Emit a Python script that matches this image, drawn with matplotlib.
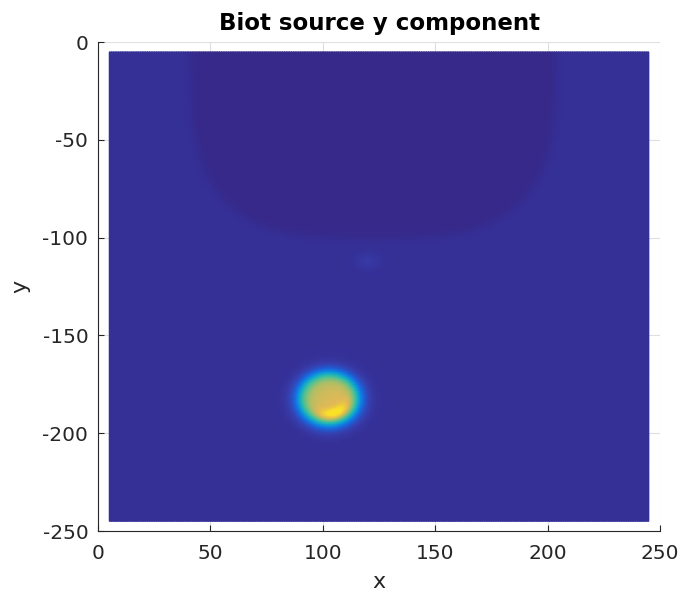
import numpy as np
import matplotlib
matplotlib.use("Agg")
import matplotlib.pyplot as plt
from matplotlib.colors import LinearSegmentedColormap

plt.rcParams["axes.unicode_minus"] = False

# grid of the source field (cell centres)
x_range = [5, 245]
y_range = [-245, -5]
n_pts = 241

# field levels
background_level = 0.05
dark_level = 0.0
# dark U region hanging from the top: centre x, top y, half width, depth, exponent
dark_region = [122.5, -5, 81, 95, 3.2]
# faint spot: x, y, rx, ry, amplitude
faint_spot = [120, -112, 6, 4.5, 0.035]
# main source blob: x, y, radius, edge width, peak level
blob = [102.5, -182, 13.0, 2.1, 0.78]
# bright crescent on the lower rim of the blob: radius, radial width, angle (deg), angular width, amplitude
crescent = [8.0, 2.6, -70, 45, 0.34]

# colour stops (level, rgb)
cmap_levels = [0.0, 0.05, 0.10, 0.25, 0.40, 0.55, 0.70, 0.80, 1.0]
cmap_colors = ["#36298a", "#353097", "#383ead", "#166ee6", "#0aaad2",
               "#4cc396", "#b4be64", "#e2b957", "#fae228"]

x = np.linspace(x_range[0], x_range[1], n_pts)
y = np.linspace(y_range[0], y_range[1], n_pts)
X, Y = np.meshgrid(x, y)

Z = np.full_like(X, background_level)

cx, top, a, b, p = dark_region
sq = np.abs((X - cx) / a) ** p + np.abs((Y - top) / b) ** p
inside = 1.0 / (1.0 + np.exp((sq - 1.0) / 0.04))
Z = Z - (background_level - dark_level) * inside

sx, sy, srx, sry, samp = faint_spot
Z = Z + samp * np.exp(-(((X - sx) / srx) ** 2 + ((Y - sy) / sry) ** 2))

bx, by, br, bw, bpeak = blob
r = np.hypot(X - bx, Y - by)
plateau = 1.0 / (1.0 + np.exp((r - br) / bw))
tilt = 0.05 * ((X - bx) - (Y - by)) / br
Z = Z + (bpeak - background_level + tilt) * plateau

kr, kw, kang, kaw, kamp = crescent
ang = np.degrees(np.arctan2(Y - by, X - bx))
dang = (ang - kang + 180) % 360 - 180
Z = Z + kamp * np.exp(-((r - kr) / kw) ** 2) * np.exp(-(dang / kaw) ** 2)
Z = np.clip(Z, 0, 1)

cmap = LinearSegmentedColormap.from_list("parula_like", list(zip(cmap_levels, cmap_colors)))

fig = plt.figure(figsize=(6.84, 5.94), dpi=100)
ax = fig.add_axes([0.1433, 0.106, 0.8217, 0.823])
ax.pcolormesh(X, Y, Z, cmap=cmap, vmin=0, vmax=1, shading="gouraud", zorder=1)

ax.set_xlim(0, 250)
ax.set_ylim(-250, 0)
ax.set_xticks([0, 50, 100, 150, 200, 250])
ax.set_yticks([-250, -200, -150, -100, -50, 0])
ax.grid(True, color="#dfdfdf", linewidth=0.8, zorder=0)
ax.set_axisbelow(True)
ax.spines["top"].set_visible(False)
ax.spines["right"].set_visible(False)
for s in ["left", "bottom"]:
    ax.spines[s].set_color("#262626")
    ax.spines[s].set_linewidth(0.8)
ax.tick_params(direction="in", length=4, colors="#262626", labelsize=14.5)
ax.tick_params(axis="x", pad=9.5)
ax.tick_params(axis="y", pad=7)

ax.set_xlabel("x", fontsize=16, color="#262626", labelpad=6)
ax.set_ylabel("y", fontsize=16, color="#262626", labelpad=9)
ax.set_title("Biot source y component", fontsize=16.5, fontweight="bold", pad=9)

fig.savefig("out.png", dpi=100)
